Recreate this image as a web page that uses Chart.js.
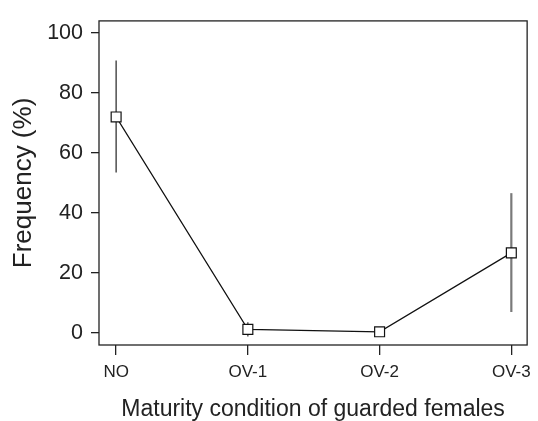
<!DOCTYPE html>
<html>
<head>
<meta charset="utf-8">
<script src="https://cdn.jsdelivr.net/npm/chart.js@4.4.1/dist/chart.umd.min.js"></script>
<style>
  html, body { margin: 0; padding: 0; background: #fff; }
  #wrap { width: 538px; height: 421px; }
</style>
</head>
<body>
<div id="wrap"><canvas id="freqChart"></canvas></div>
<script>
// Maturity condition of guarded females
const categories = ['NO', 'OV-1', 'OV-2', 'OV-3'];
const frequency = [72, 1.2, 0.4, 26.7];
const errLow = [53.5, -1.2, 0.4, 7];
const errHigh = [90.8, 3.6, 0.4, 46.6];
const errColors = ['#333333', '#444444', '#444444', '#7a7a7a'];
const errWidths = [1.3, 1.3, 1.3, 2.2];
const yTicks = [0, 20, 40, 60, 80, 100];

const FONT = "'Liberation Sans', Arial, sans-serif";
const AXIS_COLOR = '#222';

// vertical error bars, drawn below the markers
const errorBars = {
    id: 'errorBars',
    beforeDatasetsDraw(chart) {
        const ctx = chart.ctx;
        const x = chart.scales.x, y = chart.scales.y;
        ctx.save();
        frequency.forEach((v, i) => {
            if (errHigh[i] === errLow[i]) return;
            const px = x.getPixelForValue(i);
            ctx.beginPath();
            ctx.strokeStyle = errColors[i];
            ctx.lineWidth = errWidths[i];
            ctx.moveTo(px, y.getPixelForValue(errLow[i]));
            ctx.lineTo(px, y.getPixelForValue(errHigh[i]));
            ctx.stroke();
        });
        ctx.restore();
    }
};

// closed frame around the plot area
const frame = {
    id: 'frame',
    afterDraw(chart) {
        const a = chart.chartArea;
        const ctx = chart.ctx;
        ctx.save();
        ctx.strokeStyle = AXIS_COLOR;
        ctx.lineWidth = 1.3;
        ctx.strokeRect(a.left, a.top, a.right - a.left, a.bottom - a.top);
        ctx.restore();
    }
};

new Chart(document.getElementById('freqChart'), {
    type: 'line',
    data: {
        datasets: [{
            data: frequency.map((v, i) => ({ x: i, y: v })),
            borderColor: '#111',
            borderWidth: 1.2,
            pointStyle: 'rect',
            pointRadius: 7,
            pointBackgroundColor: '#fff',
            pointBorderColor: '#111',
            pointBorderWidth: 1.2,
            tension: 0,
            fill: false
        }]
    },
    options: {
        responsive: true,
        maintainAspectRatio: false,
        animation: false,
        layout: { padding: { top: 13, right: 5, left: 0, bottom: 0 } },
        plugins: {
            legend: { display: false },
            tooltip: { enabled: false }
        },
        scales: {
            x: {
                type: 'linear',
                min: -0.13,
                max: 3.12,
                afterBuildTicks: s => { s.ticks = categories.map((c, i) => ({ value: i })); },
                afterFit: s => { s.height = 76; },
                border: { display: false },
                grid: { drawOnChartArea: false, drawTicks: true, tickLength: 10, color: AXIS_COLOR, lineWidth: 1.3 },
                ticks: {
                    callback: v => categories[v],
                    color: '#222',
                    padding: 7,
                    maxRotation: 0,
                    font: { family: FONT, size: 17 }
                },
                title: {
                    display: true,
                    text: 'Maturity condition of guarded females',
                    color: '#222',
                    font: { family: FONT, size: 23, lineHeight: 1 },
                    padding: { top: 0, bottom: 0 }
                }
            },
            y: {
                min: -4,
                max: 104,
                afterBuildTicks: s => { s.ticks = yTicks.map(v => ({ value: v })); },
                afterFit: s => { s.width = 99; },
                border: { display: false },
                grid: { drawOnChartArea: false, drawTicks: true, tickLength: 8, color: AXIS_COLOR, lineWidth: 1.3 },
                ticks: {
                    color: '#222',
                    padding: 8,
                    font: { family: FONT, size: 21.5 }
                },
                title: {
                    display: true,
                    text: 'Frequency (%)',
                    color: '#222',
                    font: { family: FONT, size: 26, lineHeight: 1 },
                    padding: { top: 11, bottom: 0 }
                }
            }
        }
    },
    plugins: [errorBars, frame]
});
</script>
</body>
</html>
